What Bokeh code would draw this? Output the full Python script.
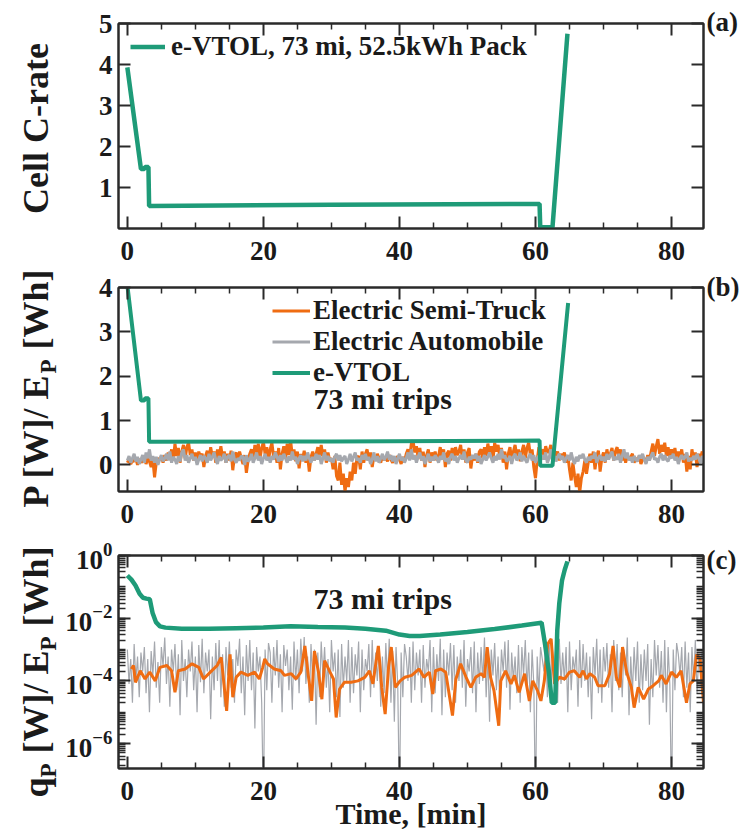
import math
from bokeh.plotting import figure
from bokeh.models import (Range1d, LinearAxis, LogAxis, FixedTicker, Label, Legend, LegendItem,
                          LogTickFormatter, CustomJSTickFormatter)
from bokeh.layouts import column, row
from bokeh.embed import file_html
from bokeh.resources import INLINE

# ---------------- data ----------------
# panel (a): e-VTOL cell C-rate
t_vtol_a = [0.0, 2.0, 2.5, 2.6, 3.1, 3.2, 30.0, 60.6, 60.7, 62.5, 64.7]
crate_vtol = [3.93, 1.45, 1.45, 1.5, 1.5, 0.55, 0.58, 0.6, 0.03, 0.03, 4.75]

# panel (b): normalised power P/E_P, e-VTOL
t_vtol_b = [0.0, 2.0, 2.5, 2.6, 3.1, 3.2, 30.0, 60.6, 60.7, 62.5, 64.8]
p_vtol = [4.05, 1.45, 1.45, 1.5, 1.5, 0.52, 0.53, 0.55, -0.02, -0.02, 3.65]

# panel (b): semi-truck and automobile, sampled every 0.25 min
semi_b = [
    0.05, 0.12, 0.02, 0.10, 0.08, 0.15, 0.00, 0.12, 0.10, 0.05, 0.18, 0.02,
    0.15, 0.08, -0.05, 0.12, -0.28, 0.05, 0.15, 0.10, 0.20, 0.05, 0.22, 0.10,
    0.28, 0.15, 0.35, 0.10, 0.48, 0.20, 0.38, 0.05, 0.30, 0.45, 0.15, 0.40,
    0.50, 0.22, 0.35, 0.10, 0.28, 0.05, 0.30, 0.18, 0.25, -0.05, 0.20, 0.32,
    0.12, 0.40, 0.18, 0.30, 0.05, 0.35, 0.20, 0.42, 0.15, 0.30, 0.05, 0.25,
    0.10, 0.32, -0.12, 0.20, 0.28, 0.10, 0.30, 0.15, 0.02, 0.22, -0.18, 0.10,
    0.25, 0.35, 0.12, 0.45, 0.20, 0.48, 0.15, 0.38, 0.52, 0.25, 0.40, 0.10,
    0.35, 0.50, 0.18, 0.30, 0.05, 0.38, -0.10, 0.25, 0.42, 0.15, 0.48, 0.22,
    0.55, 0.20, 0.35, 0.08, 0.30, -0.08, 0.25, 0.12, 0.32, 0.05, 0.20, -0.15,
    0.18, 0.30, 0.10, 0.25, 0.40, 0.15, 0.45, 0.20, 0.35, 0.05, 0.28, 0.10,
    0.15, -0.10, 0.20, -0.25, -0.35, 0.05, -0.45, -0.20, -0.60, -0.30, -0.50, -0.15,
    -0.35, 0.05, -0.20, 0.15, 0.20, -0.10, 0.30, 0.05, 0.25, 0.35, 0.10, 0.28,
    -0.05, 0.20, 0.12, 0.25, 0.15, 0.05, 0.20, 0.10, 0.18, 0.08, 0.22, 0.12,
    0.05, 0.15, 0.10, 0.20, 0.12, 0.02, 0.18, 0.08, 0.25, 0.35, 0.15, 0.48,
    0.55, 0.28, 0.42, 0.15, 0.38, 0.10, 0.30, -0.05, 0.22, 0.35, 0.05, 0.28,
    0.15, 0.30, 0.10, 0.20, 0.40, 0.12, 0.35, -0.05, 0.25, 0.32, 0.10, 0.38,
    0.15, 0.40, 0.22, 0.30, 0.45, 0.12, 0.35, 0.05, 0.28, 0.38, -0.08, 0.20,
    0.10, 0.25, 0.05, 0.30, 0.35, 0.15, 0.40, 0.20, 0.48, 0.25, 0.42, 0.10,
    0.50, 0.30, 0.45, 0.18, 0.38, 0.05, 0.30, -0.10, 0.25, 0.40, 0.12, 0.30,
    0.45, 0.20, 0.35, 0.08, 0.30, 0.45, 0.15, 0.38, 0.50, 0.22, 0.35, -0.05,
    -0.30, 0.10, 0.40, 0.25, 0.35, 0.20, 0.42, 0.28, 0.30, 0.45, 0.15, 0.35,
    0.20, 0.30, 0.10, 0.25, 0.15, 0.28, 0.05, 0.22, -0.10, -0.35, 0.05, -0.25,
    -0.50, -0.20, -0.62, -0.30, -0.15, 0.10, -0.20, 0.05, 0.25, 0.05, 0.30, -0.10,
    0.20, 0.32, -0.15, 0.15, 0.28, 0.05, 0.35, 0.15, 0.25, 0.38, 0.10, 0.30,
    0.40, 0.18, 0.35, 0.10, 0.28, 0.05, 0.22, 0.12, 0.18, 0.25, 0.05, 0.15,
    0.10, 0.20, 0.02, 0.12, 0.15, 0.05, 0.22, 0.10, 0.30, 0.48, 0.20, 0.42,
    0.58, 0.25, 0.45, 0.30, 0.50, 0.20, 0.40, 0.15, 0.35, 0.22, 0.38, 0.10,
    0.30, 0.15, 0.35, 0.05, 0.25, -0.15, 0.20, -0.10, 0.35, 0.12, 0.28, -0.05,
    0.25, 0.10, 0.30, 0.20,
]
auto_b = [
    0.10, 0.20, 0.05, 0.15, 0.25, 0.08, 0.18, 0.02, 0.12, 0.22, 0.05, 0.28,
    0.15, 0.35, 0.10, 0.20, 0.05, 0.18, 0.00, 0.12, 0.22, 0.08, 0.15, 0.25,
    0.10, 0.30, 0.05, 0.18, 0.12, 0.02, 0.20, 0.08, 0.28, 0.35, 0.10, 0.22,
    0.05, 0.15, 0.25, 0.10, 0.18, 0.00, 0.12, 0.22, 0.08, 0.20, 0.15, 0.05,
    0.25, 0.10, 0.18, 0.28, 0.12, 0.02, 0.20, 0.10, 0.15, 0.25, 0.05, 0.18,
    0.22, 0.08, 0.30, 0.12, 0.05, 0.15, 0.10, 0.20, 0.18, 0.00, 0.22, 0.08,
    0.12, 0.25, 0.05, 0.15, 0.28, 0.10, 0.20, 0.02, 0.15, 0.25, 0.10, 0.18,
    0.05, 0.20, 0.12, 0.28, 0.18, 0.08, 0.22, 0.10, 0.25, 0.15, 0.05, 0.20,
    0.10, 0.30, 0.12, 0.18, 0.02, 0.15, 0.22, 0.08, 0.20, 0.10, 0.28, 0.15,
    0.05, 0.18, 0.10, 0.25, 0.12, 0.22, 0.02, 0.15, 0.28, 0.10, 0.20, 0.08,
    0.15, 0.05, 0.18, 0.25, 0.10, 0.22, 0.08, 0.15, 0.20, 0.02, 0.12, 0.25,
    0.08, 0.18, 0.28, 0.10, 0.15, 0.05, 0.22, 0.12, 0.25, 0.10, 0.18, 0.02,
    0.12, 0.28, 0.08, 0.20, 0.05, 0.15, 0.25, 0.10, 0.18, 0.30, 0.12, 0.22,
    0.08, 0.20, 0.02, 0.15, 0.25, 0.10, 0.18, 0.05, 0.15, 0.28, 0.10, 0.35,
    0.12, 0.22, 0.05, 0.18, 0.28, 0.10, 0.20, 0.02, 0.15, 0.25, 0.08, 0.18,
    0.10, 0.22, 0.15, 0.05, 0.20, 0.12, 0.28, 0.08, 0.15, 0.02, 0.18, 0.25,
    0.10, 0.20, 0.05, 0.15, 0.22, 0.12, 0.30, 0.10, 0.05, 0.18, 0.12, 0.22,
    0.15, 0.25, 0.08, 0.20, 0.02, 0.12, 0.22, 0.10, 0.18, 0.28, 0.15, 0.05,
    0.20, 0.10, 0.25, 0.12, 0.35, 0.15, 0.22, 0.08, 0.12, 0.20, 0.02, 0.18,
    0.25, 0.10, 0.15, 0.28, 0.08, 0.20, 0.12, 0.05, 0.18, 0.25, 0.10, 0.22,
    0.05, 0.15, 0.20, 0.10, 0.22, 0.12, 0.28, 0.05, 0.15, 0.35, 0.10, 0.20,
    0.08, 0.18, 0.25, 0.12, 0.20, 0.05, 0.15, 0.22, 0.10, 0.28, 0.12, 0.02,
    0.18, 0.08, 0.22, 0.15, 0.25, 0.12, 0.05, 0.18, 0.10, 0.20, 0.15, 0.28,
    0.05, 0.15, 0.22, 0.10, 0.18, 0.08, 0.25, 0.12, 0.22, 0.30, 0.10, 0.18,
    0.12, 0.25, 0.05, 0.20, 0.35, 0.15, 0.28, 0.10, 0.18, 0.05, 0.20, 0.12,
    0.08, 0.22, 0.15, 0.25, 0.12, 0.02, 0.18, 0.10, 0.20, 0.28, 0.12, 0.15,
    0.05, 0.18, 0.25, 0.10, 0.22, 0.12, 0.08, 0.20, 0.15, 0.25, 0.10, 0.18,
    0.02, 0.15, 0.22, 0.12, 0.18, 0.28, 0.08, 0.15, 0.10, 0.20, 0.12, 0.25,
    0.15, 0.05, 0.20, 0.12,
]

# panel (c): heat generation q_P/E_P (log scale)
t_vtol_c = [0.0, 0.6, 1.2, 1.8, 2.3, 2.8, 3.3, 3.7, 4.2, 4.8, 5.6, 8.0, 12.0, 16.0,
            20.0, 24.0, 28.0, 32.0, 35.0, 38.0, 40.0, 41.5, 43.0, 46.0, 50.0, 54.0,
            58.0, 60.9, 61.4, 62.0, 62.4, 62.9, 63.2, 63.5, 63.9, 64.3, 64.7]
q_vtol = [0.23, 0.17, 0.11, 0.06, 0.045, 0.042, 0.04, 0.015, 0.0075, 0.0055, 0.005,
          0.0046, 0.0046, 0.0048, 0.005, 0.0055, 0.0052, 0.005, 0.0046, 0.004, 0.003,
          0.0027, 0.0027, 0.003, 0.0036, 0.0045, 0.0058, 0.0072, 0.0015, 0.00017,
          2e-5, 2e-5, 0.004, 0.03, 0.16, 0.35, 0.65]

t_semi_c = [0.6, 0.9, 1.2, 1.9, 2.6, 3.3, 4.1, 4.8, 5.8, 6.5, 7.0, 7.5, 8.5, 9.5, 10.5,
            11.2, 12.2, 13.2, 13.8, 14.2, 14.6, 15.1, 15.5, 16.0, 16.7, 17.7, 18.7,
            19.4, 19.9, 20.2, 20.6, 21.6, 22.6, 23.1, 24.1, 24.8, 25.5, 26.1, 26.6,
            27.1, 27.5, 28.1, 28.6, 29.0, 29.8, 30.3, 30.7, 31.2, 31.9, 32.9, 33.9,
            34.9, 35.6, 36.1, 36.9, 37.4, 37.9, 38.4, 38.8, 39.4, 40.1, 40.8, 41.8,
            42.9, 43.6, 44.4, 44.9, 45.3, 46.1, 46.8, 47.8, 48.3, 49.0, 49.8, 50.5,
            51.2, 52.0, 52.5, 52.9, 53.4, 53.9, 54.6, 54.9, 55.6, 56.4, 56.9, 57.6,
            58.4, 59.1, 59.6, 60.3, 60.8, 61.3, 61.8, 62.3, 62.8, 63.5, 64.3, 65.0,
            65.7, 66.5, 67.0, 67.5, 68.0, 68.7, 69.2, 70.2, 70.9, 71.4, 71.9, 72.4,
            72.8, 73.4, 74.1, 74.5, 75.1, 75.9, 76.6, 77.3, 78.1, 78.5, 79.2, 80.0,
            80.7, 81.4, 82.2, 82.7, 83.2, 83.7, 84.2, 84.7]
q_semi = [2.4e-4, 3.1e-4, 9e-5, 2.1e-4, 1.15e-4, 1.9e-4, 1e-4, 2.7e-4, 3.1e-4, 2.1e-4,
          4.3e-5, 2.1e-4, 2.4e-4, 3.5e-4, 2.7e-4, 1.15e-4, 1.9e-4, 3.1e-4, 5.6e-4, 8e-5,
          1.1e-5, 7e-4, 3e-5, 1.3e-4, 1.9e-4, 1.5e-4, 1.9e-4, 1.15e-4, 2.7e-4, 5e-4,
          3.5e-4, 2.4e-4, 2.1e-4, 1.5e-4, 1.7e-4, 1.15e-4, 1.9e-4, 1.3e-3, 1.5e-4,
          2.3e-5, 9e-4, 1.9e-4, 2.6e-5, 4.4e-4, 1.9e-4, 1.15e-4, 6.8e-6, 5.5e-5, 9e-5,
          9e-5, 1e-4, 1.3e-4, 2.1e-4, 8e-5, 1.3e-3, 6.2e-5, 8.7e-6, 2.7e-4, 1.2e-3,
          6.2e-5, 1e-4, 1.3e-4, 1.5e-4,
          2.4e-4, 1.3e-4, 1.9e-4, 3.8e-5, 2.1e-4, 2.4e-4, 1.9e-4, 7.8e-6, 1.15e-4,
          3.5e-4, 1.3e-4, 6.2e-5, 1.3e-4, 1.7e-4, 1.3e-4, 1.2e-3, 1.3e-4, 4.9e-5,
          3.7e-6, 1e-4, 2.1e-4, 8e-5, 1.5e-4, 4.3e-5, 1.7e-4, 2.3e-5, 1e-4, 4.9e-5,
          2.3e-5, 1e-4, 1.5e-3, 2.2e-3, 8e-5, 1.3e-4, 1.15e-4, 1.9e-4, 2.1e-4, 1.3e-4,
          2.1e-4, 1.15e-4, 1.7e-4, 1.3e-4, 7e-5, 7e-5, 1.7e-4, 1.3e-3, 1.3e-4, 6.2e-5,
          1.2e-3, 1.9e-4, 6.2e-5, 1.4e-5, 6.2e-5, 2.6e-5, 5.5e-5, 7e-5, 1e-4, 1.5e-4,
          8e-5, 1.9e-4, 1.3e-4, 2.1e-4, 2e-5, 8e-5, 1e-4, 7e-4, 5e-4, 2e-5]

# automobile, sampled every 0.25 min (1e-8 marks the zero-heat samples)
q_auto = [
    1e-3, 8e-5, 5e-4, 2e-5, 1.5e-3, 1e-4, 6e-4, 3e-5, 8e-4, 2e-4, 1.2e-3, 4e-5,
    5e-4, 1e-5, 9e-4, 1.5e-4, 1.8e-3, 6e-5, 4e-4, 2e-5, 1.2e-3, 3e-4, 2.4e-3, 8e-5,
    6e-4, 1.5e-5, 1e-3, 2e-4, 1.5e-3, 5e-5, 7e-4, 8e-6, 2e-3, 1e-4, 5e-4, 3e-5,
    1e-3, 2e-4, 1.8e-3, 5e-5, 6e-4, 1e-5, 1.4e-3, 9e-5, 2.2e-3, 4e-5, 8e-4, 2e-4,
    1e-3, 6e-6, 6e-4, 5e-5, 1.6e-3, 1e-4, 2e-3, 3e-5, 7e-4, 1.5e-5, 1.2e-3, 1.5e-4,
    1.8e-3, 6e-5, 5e-4, 2e-5, 1e-3, 3e-4, 2.2e-3, 4e-5, 6e-4, 8e-6, 1.4e-3, 1e-4,
    2e-3, 5e-5, 8e-4, 3e-6, 1.2e-3, 2e-4, 6e-4, 2e-5, 1e-8, 1e-3, 5e-5, 1.6e-3,
    8e-4, 2e-5, 1.2e-3, 1.5e-4, 2e-3, 6e-5, 7e-4, 1e-5, 1.4e-3, 3e-4, 1e-3, 5e-5,
    6e-4, 1.2e-5, 1.8e-3, 1e-4, 1e-3, 4e-5, 2.2e-3, 2e-4, 2.5e-3, 8e-5, 6e-4, 2e-5,
    1.5e-3, 1e-4, 1e-3, 4e-6, 8e-4, 3e-5, 1.8e-3, 1.5e-4, 1.2e-3, 6e-5, 5e-4, 1e-5,
    2e-3, 2e-4, 8e-4, 3e-5, 1e-3, 7e-6, 1.5e-3, 6e-5, 6e-4, 1e-4, 2e-3, 2e-5,
    1.2e-3, 4e-5, 7e-4, 1.5e-4, 1.8e-3, 1e-5, 1e-3, 5e-5, 5e-4, 2e-4, 1.5e-3, 3e-5,
    2e-3, 6e-5, 8e-4, 1e-4, 1.2e-3, 1.5e-5, 6e-4, 4e-5, 1.6e-3, 1e-4, 2.2e-3, 2e-5,
    9e-4, 5e-6, 1.2e-3, 8e-5, 1e-8, 8e-4, 3e-5, 1.5e-3, 6e-4, 1e-4, 1.2e-3, 2e-5,
    1.8e-3, 5e-5, 8e-4, 1.5e-4, 1e-3, 2e-5, 1.4e-3, 6e-5, 5e-4, 2e-4, 2e-3, 1e-5,
    1.2e-3, 4e-5, 7e-4, 1e-4, 2.2e-3, 8e-6, 1e-3, 3e-5, 8e-4, 1.5e-4, 1.6e-3, 5e-5,
    1.4e-3, 2e-5, 6e-4, 1e-4, 1e-3, 6e-5, 2e-3, 1.5e-5, 5e-4, 2e-4, 1.2e-3, 4e-5,
    1.8e-3, 1e-5, 8e-4, 8e-5, 1.2e-3, 1e-4, 2.4e-3, 3e-5, 7e-4, 5e-6, 1e-3, 1.5e-4,
    1.6e-3, 5e-5, 6e-4, 2e-5, 1e-3, 2e-4, 1.8e-3, 6e-5, 2e-3, 1.2e-5, 8e-4, 1e-4,
    6e-4, 4e-5, 1.4e-3, 2e-5, 1.2e-3, 1.5e-4, 2e-3, 5e-5, 8e-4, 1e-5, 1e-3, 8e-5,
    1e-8, 6e-4, 4e-5, 1.2e-3, 5e-4, 2e-4, 1.5e-3, 3e-5, 2e-3, 6e-5, 1e-3, 1.5e-4,
    1.4e-3, 2e-5, 2.2e-3, 8e-5, 8e-4, 1e-4, 1.2e-3, 1e-5, 1.8e-3, 5e-5, 6e-4, 2e-4,
    1e-3, 1.5e-5, 2e-3, 6e-5, 1.5e-3, 1e-4, 8e-4, 3e-5, 6e-4, 6e-6, 1.2e-3, 1.5e-4,
    2.2e-3, 4e-5, 1e-3, 2e-5, 1.2e-3, 2e-4, 1.6e-3, 6e-5, 7e-4, 1e-5, 2e-3, 1e-4,
    1.5e-3, 5e-5, 8e-4, 3e-5, 1e-3, 1.5e-4, 2.4e-3, 8e-6, 6e-4, 4e-5, 1.2e-3, 1e-4,
    1.8e-3, 2e-5, 7e-4, 5e-5, 1e-3, 1e-4, 1.5e-3, 4e-6, 5e-4, 3e-5, 2e-3, 1.5e-4,
    1.4e-3, 6e-5, 9e-4, 2e-5, 2e-3, 1e-5, 1.2e-3, 8e-5, 1e-8, 1e-3, 5e-5, 1.6e-3,
    7e-4, 1.5e-4, 1.2e-3, 3e-5, 1.8e-3, 6e-5, 8e-4, 1e-5, 1.2e-3, 1e-4, 2e-3, 4e-5,
    6e-4, 2e-4, 1e-3, 5e-5,
]

x_ticks = [0, 20, 40, 60, 80]
x_minor = [5, 10, 15, 25, 30, 35, 45, 50, 55, 65, 70, 75]
ya_ticks = [1, 2, 3, 4, 5]
yb_ticks = [0, 1, 2, 3, 4]
yc_ticks = [1e-6, 1e-4, 1e-2, 1.0]
yc_minor = [k * 10.0 ** e for e in range(-7, 0) for k in range(1, 10)]

# ---------------- styling ----------------
FONT = "Liberation Serif"
TXT = "#1a1a1a"
GREEN = "#1e9b78"
ORANGE = "#ef6c12"
GREY = "#a5a8ae"
INK = "#2a2a2a"
X0, X1 = -1.3, 84.7
FW = 585
LEFT_W = 62          # strip holding the y titles
MAIN_LEFT = 56       # border for tick labels inside the panel figures
MAIN_RIGHT = 2
RIGHT_W = 38         # strip holding the (a)/(b)/(c) tags
TICK_PX = "27px"

FH_A, TOP_A, BOT_A = 205, 23, 43
FH_B, TOP_B, BOT_B = 204, 16, 43
FH_C, TOP_C, BOT_C = 213, 21, 71
H_TOTAL = TOP_A + FH_A + BOT_A + TOP_B + FH_B + BOT_B + TOP_C + FH_C + BOT_C
ROW_H = 31           # measured legend row height for 27px text


def style_axis(ax, labels=True, minor_len=6):
    ax.major_tick_in = 12
    ax.major_tick_out = 0
    ax.minor_tick_in = minor_len
    ax.minor_tick_out = 0
    ax.axis_line_color = INK
    ax.axis_line_width = 2
    ax.major_tick_line_color = INK
    ax.major_tick_line_width = 2
    ax.minor_tick_line_color = INK
    ax.minor_tick_line_width = 1.5
    ax.major_label_text_font = FONT
    ax.major_label_text_font_style = "bold"
    ax.major_label_text_color = TXT
    if labels:
        ax.major_label_text_font_size = TICK_PX
        ax.major_label_standoff = 6
    else:
        ax.formatter = CustomJSTickFormatter(code="return ''")
        ax.major_label_text_font_size = "0px"
        ax.major_label_standoff = 0


def make_fig(fh, top, bottom, y_range, ylog=False):
    p = figure(frame_width=FW, frame_height=fh, x_range=Range1d(X0, X1), y_range=y_range,
               y_axis_type="log" if ylog else "linear",
               output_backend="svg", toolbar_location=None,
               min_border_left=MAIN_LEFT, min_border_right=MAIN_RIGHT,
               min_border_top=top, min_border_bottom=bottom)
    p.xgrid.visible = False
    p.ygrid.visible = False
    p.outline_line_color = INK
    p.outline_line_width = 2
    p.background_fill_color = "white"
    p.border_fill_color = "white"
    return p


def add_axes(p, yt, ylog=False, x_standoff=13):
    xt = FixedTicker(ticks=x_ticks, minor_ticks=x_minor)
    bottom_ax = p.below[0]
    left_ax = p.left[0]
    bottom_ax.ticker = xt
    style_axis(bottom_ax)
    bottom_ax.major_label_standoff = x_standoff
    left_ax.ticker = yt
    style_axis(left_ax, minor_len=7)
    top_ax = LinearAxis(ticker=xt)
    style_axis(top_ax, labels=False)
    p.add_layout(top_ax, "above")
    right_ax = LogAxis(ticker=yt) if ylog else LinearAxis(ticker=yt)
    style_axis(right_ax, labels=False, minor_len=7)
    p.add_layout(right_ax, "right")
    return bottom_ax, left_ax


def text_label(p, text, x, y, size, align="left", baseline="middle", angle=0.0):
    p.add_layout(Label(x=x, y=y, x_units="screen", y_units="screen", text=text,
                       angle=angle, text_align=align, text_baseline=baseline,
                       text_font=FONT, text_font_style="bold", text_font_size=size,
                       text_color=TXT))


def style_legend(lg, x, fh, first_center, rows, gw, standoff):
    height = rows * ROW_H
    top = fh - (first_center - ROW_H // 2)
    lg.location = (int(x), int(round(top - height)))
    lg.margin = 0
    lg.padding = 0
    lg.spacing = 0
    lg.border_line_color = None
    lg.background_fill_alpha = 0
    lg.glyph_width = gw
    lg.glyph_height = 27
    lg.label_height = 27
    lg.label_standoff = standoff
    lg.label_text_font = FONT
    lg.label_text_font_style = "bold"
    lg.label_text_font_size = "27px"
    lg.label_text_color = TXT


def strip(width):
    s = figure(frame_width=width, frame_height=H_TOTAL, x_range=Range1d(0, 1),
               y_range=Range1d(0, 1), x_axis_type=None, y_axis_type=None,
               output_backend="svg", toolbar_location=None,
               min_border_left=0, min_border_right=0, min_border_top=0, min_border_bottom=0)
    s.outline_line_color = None
    s.xgrid.visible = False
    s.ygrid.visible = False
    return s


# ---------------- panel (a) ----------------
pa = make_fig(FH_A, TOP_A, BOT_A, Range1d(0, 5))
add_axes(pa, FixedTicker(ticks=ya_ticks, minor_ticks=[]))
ra = pa.line(t_vtol_a, crate_vtol, line_color=GREEN, line_width=4.5)
lga = Legend(items=[LegendItem(label="e-VTOL, 73 mi, 52.5kWh Pack", renderers=[ra])])
style_legend(lga, 12, FH_A, 23, 1, 35, 6)
pa.add_layout(lga)

# ---------------- panel (b) ----------------
pb = make_fig(FH_B, TOP_B, BOT_B, Range1d(-0.6, 4))
add_axes(pb, FixedTicker(ticks=yb_ticks, minor_ticks=[]))
t_b = [i * 0.25 for i in range(len(semi_b))]
r_semi_b = pb.line(t_b, semi_b, line_color=ORANGE, line_width=3)
r_auto_b = pb.line(t_b, auto_b, line_color=GREY, line_width=3)
r_vtol_b = pb.line(t_vtol_b, p_vtol, line_color=GREEN, line_width=4)
lgb = Legend(items=[LegendItem(label="Electric Semi-Truck", renderers=[r_semi_b]),
                    LegendItem(label="Electric Automobile", renderers=[r_auto_b]),
                    LegendItem(label="e-VTOL", renderers=[r_vtol_b])])
style_legend(lgb, 154, FH_B, 23, 3, 38, 3)
pb.add_layout(lgb)
text_label(pb, "73 mi trips", 195, 93, "30px")

# ---------------- panel (c) ----------------
pc = make_fig(FH_C, TOP_C, BOT_C, Range1d(1.6e-7, 1.0), ylog=True)
xc_axis, yc_axis = add_axes(pc, FixedTicker(ticks=yc_ticks, minor_ticks=yc_minor), ylog=True)
yc_axis.formatter = LogTickFormatter()
t_c = [i * 0.25 for i in range(len(q_auto))]
pc.line(t_c, q_auto, line_color=GREY, line_width=1.2)
pc.line(t_semi_c, q_semi, line_color=ORANGE, line_width=3)
pc.line(t_vtol_c, q_vtol, line_color=GREEN, line_width=4.5)
text_label(pc, "73 mi trips", 195, FH_C - 43, "30px")
xc_axis.axis_label = "Time, [min]"
xc_axis.axis_label_text_font = FONT
xc_axis.axis_label_text_font_style = "bold"
xc_axis.axis_label_text_font_size = "30px"
xc_axis.axis_label_text_color = TXT
xc_axis.axis_label_standoff = -6

# ---------------- left strip: y-axis titles ----------------
ls = strip(LEFT_W)
UP = math.pi / 2
F, FS = 36, 23
LAB, SUB = f"{F}px", f"{FS}px"
BASE_X = 48                       # baseline of the main title text
SUB_BASE_X = 56                   # baseline of the subscripts
MAIN_X = BASE_X - 0.3375 * F      # anchor for text_baseline="middle"
SUB_X = SUB_BASE_X - 0.3375 * FS
SP = 0.25 * F                     # a word space
SUBW = 0.611 * FS + 1             # width of the subscript P

text_label(ls, "Cell C-rate", MAIN_X, H_TOTAL - 128, LAB, align="center", angle=UP)

yb0 = H_TOTAL - 507
text_label(ls, "P [W]/ E", MAIN_X, yb0, LAB, angle=UP)
text_label(ls, "P", SUB_X, yb0 + 3.722 * F, SUB, angle=UP)
text_label(ls, "[Wh]", MAIN_X, yb0 + 3.722 * F + SUBW + SP, LAB, angle=UP)

yc0 = H_TOTAL - 797
s1 = yc0 + 0.556 * F
s2 = s1 + SUBW + SP
s3 = s2 + 2.861 * F
s4 = s3 + SUBW + SP
text_label(ls, "q", MAIN_X, yc0, LAB, angle=UP)
text_label(ls, "P", SUB_X, s1, SUB, angle=UP)
text_label(ls, "[W]/ E", MAIN_X, s2, LAB, angle=UP)
text_label(ls, "P", SUB_X, s3, SUB, angle=UP)
text_label(ls, "[Wh]", MAIN_X, s4, LAB, angle=UP)

# ---------------- right strip: panel tags ----------------
rs = strip(RIGHT_W)
text_label(rs, "(a)", 1, H_TOTAL - 21, "27px")
text_label(rs, "(b)", 1, H_TOTAL - 286, "27px")
text_label(rs, "(c)", 1, H_TOTAL - 559, "27px")

layout = row(ls, column(pa, pb, pc), rs)
open("out.html", "w").write(file_html(layout, INLINE))
